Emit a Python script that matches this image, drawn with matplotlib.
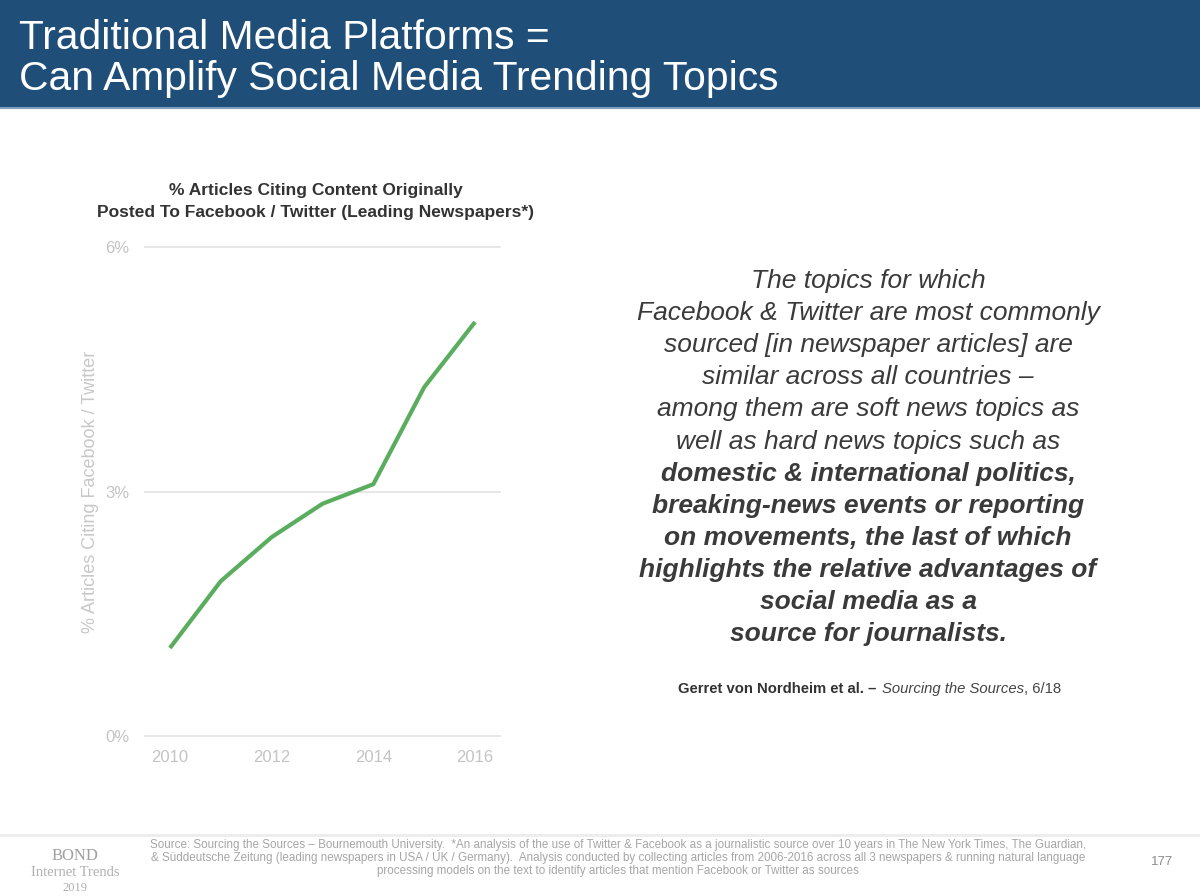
import matplotlib.pyplot as plt
from matplotlib.patches import Rectangle
from matplotlib.lines import Line2D

# Data
years = [2010, 2011, 2012, 2013, 2014, 2015, 2016]
pct_citing = [1.08, 1.90, 2.44, 2.85, 3.09, 4.28, 5.08]
y_ticks = [0, 3, 6]
y_tick_labels = ["0%", "3%", "6%"]
x_ticks = [2010, 2012, 2014, 2016]

quote_lines = [
    ("The topics for which", "normal"),
    ("Facebook & Twitter are most commonly", "normal"),
    ("sourced [in newspaper articles] are", "normal"),
    ("similar across all countries \u2013", "normal"),
    ("among them are soft news topics as", "normal"),
    ("well as hard news topics such as", "normal"),
    ("domestic & international politics,", "bold"),
    ("breaking-news events or reporting", "bold"),
    ("on movements, the last of which", "bold"),
    ("highlights the relative advantages of", "bold"),
    ("social media as a", "bold"),
    ("source for journalists.", "bold"),
]

source_lines = [
    "Source: Sourcing the Sources \u2013 Bournemouth University.  *An analysis of the use of Twitter & Facebook as a journalistic source over 10 years in The New York Times, The Guardian,",
    "& S\u00fcddeutsche Zeitung (leading newspapers in USA / UK / Germany).  Analysis conducted by collecting articles from 2006-2016 across all 3 newspapers & running natural language",
    "processing models on the text to identify articles that mention Facebook or Twitter as sources",
]

W, H = 1200, 896
plt.rcParams['font.family'] = ['Liberation Sans', 'DejaVu Sans']

fig = plt.figure(figsize=(W / 100, H / 100), dpi=100)
fig.patch.set_facecolor('white')


def fx(px):
    return px / W


def fy(py):
    return 1 - py / H


# Header band
fig.add_artist(Rectangle((0, fy(107)), 1, 107 / H, transform=fig.transFigure,
                         facecolor='#1f4e79', edgecolor='none'))
fig.add_artist(Line2D([0, 1], [fy(108), fy(108)], transform=fig.transFigure,
                      color='#7f9fbf', linewidth=1.5))
fig.text(fx(19), fy(38), "Traditional Media Platforms =", color='white',
         fontsize=29.3, va='center', ha='left')
fig.text(fx(19), fy(79), "Can Amplify Social Media Trending Topics", color='white',
         fontsize=29.3, va='center', ha='left')

# Chart
ax = fig.add_axes([fx(145), fy(736), fx(500) - fx(145), fy(247) - fy(736)])
ax.plot(years, pct_citing, color='#5aad5e', linewidth=3, clip_on=False,
        solid_capstyle='butt', solid_joinstyle='round')
ax.set_xlim(2009.51, 2016.49)
ax.set_ylim(0, 6)
ax.set_yticks(y_ticks)
ax.set_yticklabels(y_tick_labels)
ax.set_xticks(x_ticks)
ax.grid(True, axis='y', color='#e3e3e3', linewidth=1.2)
for gl in ax.get_ygridlines():
    gl.set_clip_on(False)
ax.set_axisbelow(True)
for s in ax.spines.values():
    s.set_visible(False)
ax.tick_params(length=0, labelsize=12, labelcolor='#c4c4c4')
ax.tick_params(axis='y', pad=11)
ax.tick_params(axis='x', pad=10)
ax.set_ylabel("% Articles Citing Facebook / Twitter", fontsize=13,
              color='#c8c8c8', labelpad=5)

fig.text(fx(316), fy(190), "% Articles Citing Content Originally", ha='center',
         va='center', fontsize=12.5, fontweight='bold', color='#333333')
fig.text(fx(316), fy(212), "Posted To Facebook / Twitter (Leading Newspapers*)",
         ha='center', va='center', fontsize=12.5, fontweight='bold', color='#333333')

# Quote on the right
for i, (line, weight) in enumerate(quote_lines):
    fig.text(fx(868), fy(281 + i * 32.1), line, ha='center', va='center',
             fontsize=19, style='italic', fontweight=weight, color='#3a3a3a')

# Attribution line
fig.canvas.draw()
r = fig.canvas.get_renderer()
t1 = fig.text(fx(876), fy(689), "Gerret von Nordheim et al. \u2013", ha='right',
              va='center', fontsize=10.7, fontweight='bold', color='#333333')
t2 = fig.text(fx(882), fy(689), "Sourcing the Sources", ha='left', va='center',
              fontsize=10.7, style='italic', color='#444444')
x_end = t2.get_window_extent(renderer=r).x1
fig.text(x_end / (fig.dpi * fig.get_figwidth()), fy(689), ", 6/18", ha='left',
         va='center', fontsize=10.7, color='#444444')

# Footer
fig.add_artist(Line2D([0, 1], [fy(835), fy(835)], transform=fig.transFigure,
                      color='#ececec', linewidth=2))
fig.text(fx(75), fy(856), "BOND", ha='center', va='center', fontsize=12,
         family='Liberation Serif', color='#a0a0a0')
fig.text(fx(75), fy(872), "Internet Trends", ha='center', va='center', fontsize=10.5,
         family='Liberation Serif', color='#b0b0b0')
fig.text(fx(75), fy(888), "2019", ha='center', va='center', fontsize=9,
         family='Liberation Serif', color='#b0b0b0')
for i, line in enumerate(source_lines):
    fig.text(fx(618), fy(845 + i * 13), line, ha='center', va='center',
             fontsize=8.4, color='#a6a6a6')
fig.text(fx(1162), fy(862), "177", ha='center', va='center', fontsize=9.5,
         color='#8c8c8c')

fig.savefig("out.png", dpi=100, facecolor='white')
